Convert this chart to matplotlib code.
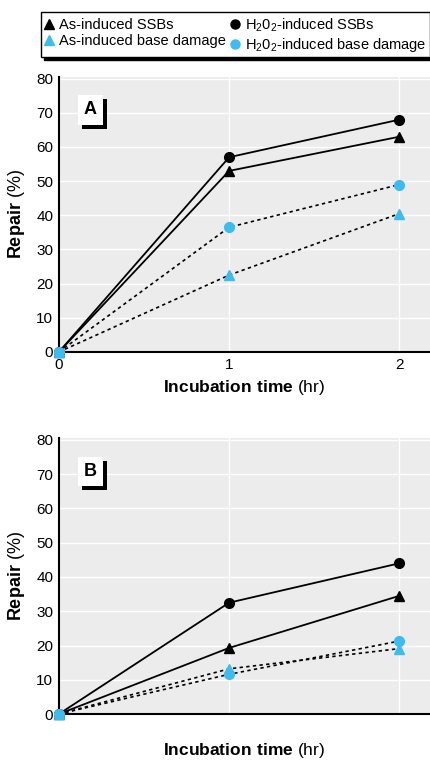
import matplotlib
matplotlib.use("Agg")
import matplotlib.pyplot as plt
import matplotlib.patheffects as pe
from matplotlib.lines import Line2D

plt.rcParams["font.family"] = ["Liberation Sans", "DejaVu Sans"]
plt.rcParams["mathtext.fontset"] = "custom"
plt.rcParams["mathtext.rm"] = "Liberation Sans"
plt.rcParams["mathtext.bf"] = "Liberation Sans:bold"

# data
hours = [0, 1, 2]
a_as_ssb = [0, 53, 63]
a_h2o2_ssb = [0, 57, 68]
a_as_base = [0, 22.5, 40.5]
a_h2o2_base = [0, 36.5, 49]

b_as_ssb = [0, 19.3, 34.5]
b_h2o2_ssb = [0, 32.5, 44]
b_as_base = [0, 13.2, 19.1]
b_h2o2_base = [0, 11.6, 21.3]

labels = ["As-induced SSBs", "As-induced base damage",
          r"H$_2$0$_2$-induced SSBs", r"H$_2$0$_2$-induced base damage"]
yticks = [0, 10, 20, 30, 40, 50, 60, 70, 80]

BLUE = "#3dbcf0"
BG = "#ececec"

fig = plt.figure(figsize=(4.30, 7.64), dpi=100)
ax_a = fig.add_axes([0.137, 0.5393, 0.863, 0.36])
ax_b = fig.add_axes([0.137, 0.0654, 0.863, 0.361])


def draw_panel(ax, as_ssb, h_ssb, as_base, h_base, letter, show_xticks):
    ax.set_facecolor(BG)
    dot = (0, (2, 2))
    ax.plot(hours, h_base, color="black", lw=1.2, linestyle=dot, zorder=2)
    ax.plot(hours, as_base, color="black", lw=1.2, linestyle=dot, zorder=2)
    ax.plot(hours, as_ssb, color="black", lw=1.3, zorder=2)
    ax.plot(hours, h_ssb, color="black", lw=1.3, zorder=2)
    ax.plot(hours, h_ssb, "o", color="black", ms=7, clip_on=False, zorder=4)
    ax.plot(hours, as_ssb, "^", color="black", ms=7.5, clip_on=False, zorder=4)
    ax.plot(hours, as_base, "^", color=BLUE, ms=7.5, clip_on=False, zorder=5)
    ax.plot(hours, h_base, "o", color=BLUE, ms=7, clip_on=False, zorder=5)

    ax.set_xlim(0, 2.18)
    ax.set_ylim(0, 80.5)
    ax.set_xticks([0, 1, 2])
    ax.set_yticks(yticks)
    ax.grid(True, color="white", lw=1.0)
    ax.set_axisbelow(True)
    for s in ("top", "right"):
        ax.spines[s].set_visible(False)
    for s in ("left", "bottom"):
        ax.spines[s].set_linewidth(1.5)
        ax.spines[s].set_zorder(3)
    ax.tick_params(length=0, labelsize=11, pad=4)
    if not show_xticks:
        ax.tick_params(axis="x", labelcolor="none")
    ax.set_xlabel(r"$\mathbf{Incubation\ time}$ (hr)", fontsize=12.5, labelpad=5)
    ax.set_ylabel(r"$\mathbf{Repair}$ (%)", fontsize=13, labelpad=7)

    t = ax.text(0.085, 0.88, letter, transform=ax.transAxes, fontsize=13,
                fontweight="bold", va="center", ha="center",
                bbox=dict(boxstyle="square,pad=0.35", fc="white", ec="none"),
                zorder=6)
    t.get_bbox_patch().set_path_effects(
        [pe.withSimplePatchShadow(offset=(3, -3), shadow_rgbFace="black", alpha=1),
         pe.Normal()])


draw_panel(ax_a, a_as_ssb, a_h2o2_ssb, a_as_base, a_h2o2_base, "A", True)
draw_panel(ax_b, b_as_ssb, b_h2o2_ssb, b_as_base, b_h2o2_base, "B", False)

handles = [
    Line2D([], [], marker="^", color="black", ls="none", ms=6.5),
    Line2D([], [], marker="^", color=BLUE, ls="none", ms=6.5),
    Line2D([], [], marker="o", color="black", ls="none", ms=6.5),
    Line2D([], [], marker="o", color=BLUE, ls="none", ms=6.5),
]
leg = fig.legend(handles, labels, ncol=2, loc="upper center",
                 bbox_to_anchor=(0.548, 0.984), fontsize=10.5,
                 frameon=True, fancybox=False, edgecolor="black",
                 handlelength=0.6, handletextpad=0.4, columnspacing=0.3,
                 labelspacing=0.15, borderpad=0.25, borderaxespad=0,
                 shadow={"color": "black", "alpha": 1})
leg.get_frame().set_linewidth(1.0)

fig.savefig("out.png", dpi=100)
